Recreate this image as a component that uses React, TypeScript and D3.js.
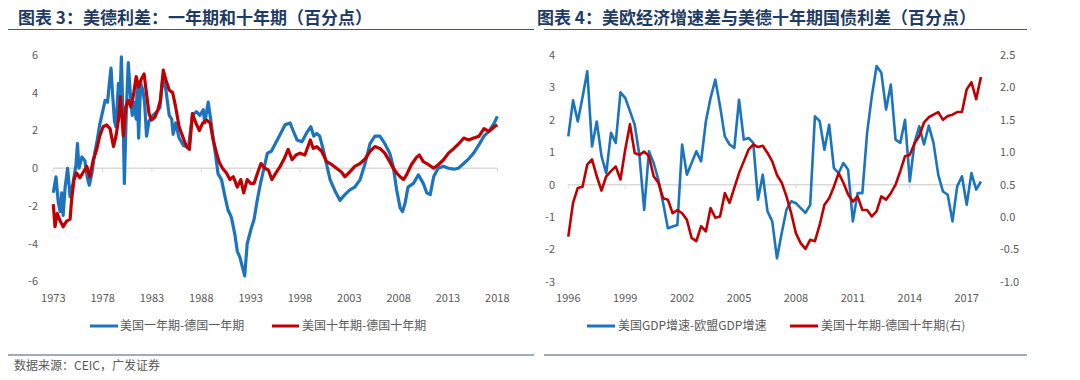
import React from "react";
import * as d3 from "d3";

// ---------- Left chart data (year, percentage points) ----------
const leftYearTicks = [1973, 1978, 1983, 1988, 1993, 1998, 2003, 2008, 2013, 2018];
const leftValueTicks = [-6, -4, -2, 0, 2, 4, 6];

const spread1Y: [number, number][] = [
  [1973.0,-1.3],[1973.27,-0.45],[1973.5,-1.8],[1973.7,-2.3],[1973.85,-1.3],[1974.0,-2.5],[1974.2,-1.0],[1974.45,0.0],[1974.7,-1.5],[1975.0,-0.8],[1975.3,0.2],[1975.45,1.3],[1975.6,0.0],[1975.9,0.6],[1976.2,0.4],[1976.45,-0.5],[1976.65,-0.9],[1976.9,-0.3],[1977.2,0.8],[1977.45,1.5],[1977.7,2.3],[1978.0,3.0],[1978.25,3.6],[1978.5,3.5],[1978.7,4.6],[1978.85,5.3],[1979.0,4.0],[1979.2,2.5],[1979.35,2.2],[1979.6,4.5],[1979.75,3.5],[1979.9,5.9],[1980.1,2.0],[1980.2,-0.8],[1980.4,3.0],[1980.6,5.6],[1980.8,4.0],[1981.0,2.8],[1981.2,3.5],[1981.4,2.6],[1981.5,4.3],[1981.65,1.6],[1981.85,4.5],[1982.05,4.2],[1982.25,3.5],[1982.45,1.7],[1982.7,2.5],[1983.1,2.8],[1983.5,3.0],[1983.8,3.2],[1984.1,4.8],[1984.4,4.2],[1984.75,2.8],[1985.0,2.6],[1985.15,1.8],[1985.4,2.4],[1985.75,1.6],[1986.2,1.2],[1986.7,1.1],[1987.1,2.8],[1987.5,3.0],[1987.85,2.8],[1988.2,3.1],[1988.35,2.4],[1988.7,3.5],[1988.95,2.6],[1989.2,1.6],[1989.5,0.5],[1989.7,-0.3],[1990.05,-0.6],[1990.4,-1.5],[1990.7,-2.2],[1991.05,-2.6],[1991.4,-3.5],[1991.65,-4.4],[1991.9,-4.7],[1992.25,-5.4],[1992.4,-5.7],[1992.65,-4.0],[1993.0,-3.3],[1993.35,-2.7],[1993.7,-1.6],[1994.0,-0.8],[1994.35,0.0],[1994.7,0.8],[1995.1,0.9],[1995.5,1.3],[1996.0,1.8],[1996.5,2.3],[1997.0,2.4],[1997.3,2.0],[1997.7,1.5],[1998.2,1.4],[1998.7,1.9],[1999.1,2.2],[1999.4,1.7],[1999.7,1.85],[2000.0,1.7],[2000.35,1.0],[2000.7,0.2],[2001.05,-0.6],[2001.55,-1.2],[2002.05,-1.7],[2002.55,-1.4],[2003.05,-1.15],[2003.55,-1.0],[2004.1,-0.6],[2004.6,0.25],[2005.1,1.3],[2005.6,1.7],[2006.1,1.7],[2006.6,1.3],[2007.1,0.8],[2007.45,0.1],[2007.8,-1.15],[2008.15,-2.1],[2008.4,-2.3],[2008.65,-1.85],[2008.95,-1.0],[2009.5,-0.8],[2010.0,-0.35],[2010.5,-0.8],[2010.85,-1.3],[2011.2,-1.4],[2011.55,-0.45],[2012.0,0.0],[2012.55,0.1],[2013.05,0.0],[2013.6,-0.05],[2014.05,0.0],[2014.6,0.25],[2015.1,0.5],[2015.6,0.8],[2016.15,1.25],[2016.65,1.7],[2017.15,1.95],[2017.7,2.4],[2018.0,2.75]
];

const spread10Y: [number, number][] = [
  [1973.0,-1.9],[1973.17,-3.1],[1973.4,-2.4],[1973.7,-2.8],[1974.0,-3.1],[1974.35,-2.8],[1974.7,-2.7],[1974.85,-1.7],[1975.1,-0.6],[1975.35,-0.25],[1975.7,-0.5],[1976.05,-0.2],[1976.4,0.1],[1976.7,-0.45],[1977.05,0.45],[1977.4,1.0],[1977.7,1.7],[1978.05,2.2],[1978.4,2.3],[1978.75,2.1],[1979.1,1.15],[1979.35,1.7],[1979.6,2.55],[1979.8,3.8],[1980.1,1.7],[1980.35,3.25],[1980.6,3.6],[1980.85,3.25],[1981.1,3.8],[1981.4,4.85],[1981.65,4.3],[1981.9,4.7],[1982.2,5.0],[1982.45,3.95],[1982.7,2.9],[1982.95,2.55],[1983.3,2.7],[1983.6,3.1],[1983.85,3.6],[1984.15,5.2],[1984.4,4.7],[1984.75,4.15],[1985.1,4.0],[1985.4,3.25],[1985.75,2.2],[1986.1,1.7],[1986.5,1.15],[1986.8,1.0],[1987.1,2.9],[1987.45,2.4],[1987.8,2.0],[1988.15,2.4],[1988.55,2.55],[1988.9,2.4],[1989.2,1.5],[1989.55,0.8],[1989.8,0.35],[1990.15,0.0],[1990.55,-0.25],[1990.9,-0.6],[1991.25,-0.45],[1991.65,-1.0],[1992.0,-0.6],[1992.3,-1.3],[1992.65,-0.6],[1993.0,-0.8],[1993.35,-0.8],[1993.7,-0.25],[1994.05,0.25],[1994.45,0.0],[1994.8,-0.1],[1995.15,-0.6],[1995.5,-0.3],[1996.0,0.1],[1996.4,0.5],[1996.8,1.0],[1997.2,0.45],[1997.6,0.7],[1998.0,0.8],[1998.5,0.7],[1999.05,1.5],[1999.35,1.05],[1999.7,1.15],[2000.2,0.9],[2000.7,0.35],[2001.2,0.2],[2001.7,0.0],[2002.2,-0.2],[2002.55,-0.45],[2003.05,-0.2],[2003.55,0.1],[2004.1,0.25],[2004.6,0.5],[2005.1,0.9],[2005.6,1.15],[2006.1,1.05],[2006.6,0.8],[2007.1,0.35],[2007.45,0.0],[2007.8,-0.25],[2008.15,-0.45],[2008.5,-0.6],[2008.8,-0.35],[2009.3,0.2],[2009.85,0.6],[2010.1,0.7],[2010.5,0.35],[2011.0,0.2],[2011.55,0.0],[2012.05,0.2],[2012.55,0.45],[2013.05,0.8],[2013.6,1.05],[2014.1,1.3],[2014.6,1.6],[2015.1,1.5],[2015.6,1.6],[2016.15,1.7],[2016.65,2.1],[2017.15,1.95],[2017.7,2.2],[2018.0,2.3]
];

// ---------- Right chart data (quarterly from 1996Q1) ----------
const rightStartYear = 1996;
const rightYearTicks = [1996, 1999, 2002, 2005, 2008, 2011, 2014, 2017];
const rightLeftTicks = [-3, -2, -1, 0, 1, 2, 3, 4];
const rightRightTicks = [-1.0, -0.5, 0.0, 0.5, 1.0, 1.5, 2.0, 2.5];

const gdpGap = [
  1.49, 2.6, 1.95, 2.7,
  3.5, 1.18, 1.95, 0.88,
  0.36, 1.6, 1.29, 2.85,
  2.68, 2.27, 1.85, 0.9,
  -0.78, 1.03, 0.67, 0.15,
  -0.57, -1.34, -1.29, -1.24,
  1.24, 0.31, 0.67, 1.03,
  0.72, 1.95, 2.68, 3.24,
  2.42, 1.49, 1.24, 1.13,
  2.62, 1.39, 1.44, 1.29,
  -0.46, 0.31, -0.82, -1.13,
  -2.27, -1.49, -0.77, -0.51,
  -0.57, -0.72, -0.87, -0.62,
  2.11, 1.96, 1.08, 1.85,
  0.51, 0.36, 0.67, 0.46,
  -1.13, -0.26, -0.26, 1.6,
  2.73, 3.66, 3.45, 2.32,
  3.09, 1.39, 1.29, 2.0,
  0.1, 1.29, 1.8, 1.24,
  1.82, 1.29, 0.31, -0.21,
  -0.31, -1.13, -0.05, 0.26,
  -0.62, 0.36, -0.15, 0.1
];

const bund10YGap = [
  -0.3, 0.22, 0.45, 0.47,
  0.81, 0.89, 0.63, 0.41,
  0.63, 0.71, 0.78, 0.58,
  1.04, 1.43, 0.99, 0.96,
  1.01, 0.94, 0.63, 0.53,
  0.29, 0.27, 0.06, 0.11,
  0.06, -0.04, -0.32, -0.37,
  -0.14, -0.22, 0.14, -0.01,
  0.01, 0.37, 0.22, 0.45,
  0.68, 0.86, 1.04, 1.12,
  1.08, 1.10, 0.99, 0.86,
  0.65, 0.53, 0.32, 0.06,
  -0.25, -0.4, -0.49, -0.35,
  -0.37, -0.12, 0.19, 0.29,
  0.47, 0.68, 0.53, 0.35,
  0.24, 0.32, 0.11, 0.11,
  0.01, 0.09, 0.32, 0.27,
  0.37, 0.5, 0.71, 0.94,
  0.96, 1.14, 1.25, 1.46,
  1.54, 1.58, 1.62, 1.5,
  1.56, 1.58, 1.62, 1.62,
  1.97, 2.08, 1.82, 2.16
];

const BLUE = "#1B74BD";
const RED = "#C00000";
const AXIS_TEXT = "#595959";
const FONT = "'Noto Sans CJK SC', 'Noto Sans', sans-serif";

export default function App() {
  // scales
  const xL = d3.scaleLinear().domain([1973, 2018]).range([53.3, 497.3]);
  const yL = d3.scaleLinear().domain([-6, 6]).range([281.5, 55]);
  const xR = d3.scaleLinear().domain([1996, 2017]).range([568.3, 966.7]);
  const yRL = d3.scaleLinear().domain([-3, 4]).range([282, 55]);
  const yRR = d3.scaleLinear().domain([-1, 2.5]).range([282, 55]);

  const lineL = d3.line<[number, number]>().x((d) => xL(d[0])).y((d) => yL(d[1]));
  const qt = (i: number) => rightStartYear + i / 4;
  const lineRL = d3.line<number>().x((_, i) => xR(qt(i))).y((d) => yRL(d));
  const lineRR = d3.line<number>().x((_, i) => xR(qt(i))).y((d) => yRR(d));

  const xLabelY = 298;

  return (
    <svg
      width={1080}
      height={380}
      style={{ position: "absolute", left: 0, top: 0, background: "#fff" }}
      fontFamily={FONT}
    >
      {/* Titles */}
      <text x={18} y={24} fontSize={17} fontWeight="bold" fill="#1F3B63">图表 3：美德利差：一年期和十年期（百分点）</text>
      <text x={537} y={24} fontSize={17} fontWeight="bold" fill="#1F3B63">图表 4：美欧经济增速差与美德十年期国债利差（百分点）</text>
      <line x1={8} x2={534} y1={29.5} y2={29.5} stroke="#3D5A78" strokeWidth={1} />
      <line x1={544} x2={1027} y1={29.5} y2={29.5} stroke="#3D5A78" strokeWidth={1} />

      {/* ---------- Left chart ---------- */}
      <line x1={xL(1973)} x2={xL(2018)} y1={yL(0)} y2={yL(0)} stroke="#D9D9D9" strokeWidth={1.5} />
      {leftYearTicks.map((t) => (
        <line key={"lt" + t} x1={xL(t)} x2={xL(t)} y1={yL(0)} y2={yL(0) + 4} stroke="#D9D9D9" strokeWidth={1} />
      ))}
      {leftValueTicks.map((v) => (
        <text key={"lv" + v} x={38} y={yL(v)} dy="0.35em" textAnchor="end" fontSize={11} fill={AXIS_TEXT}>{v}</text>
      ))}
      {leftYearTicks.map((t) => (
        <text key={"ly" + t} x={xL(t)} y={xLabelY} dy="0.35em" textAnchor="middle" fontSize={11} fill={AXIS_TEXT}>{t}</text>
      ))}
      <path d={lineL(spread1Y) || ""} fill="none" stroke={BLUE} strokeWidth={3.2} strokeLinejoin="round" />
      <path d={lineL(spread10Y) || ""} fill="none" stroke={RED} strokeWidth={3.2} strokeLinejoin="round" />

      {/* Left legend */}
      <line x1={90} x2={118} y1={326} y2={326} stroke={BLUE} strokeWidth={3} />
      <text x={120} y={326} dy="0.35em" fontSize={12} fill={AXIS_TEXT}>美国一年期-德国一年期</text>
      <line x1={272} x2={299} y1={326} y2={326} stroke={RED} strokeWidth={3} />
      <text x={302} y={326} dy="0.35em" fontSize={12} fill={AXIS_TEXT}>美国十年期-德国十年期</text>

      {/* ---------- Right chart ---------- */}
      <line x1={xR(1996)} x2={xR(qt(gdpGap.length - 1))} y1={yRL(0)} y2={yRL(0)} stroke="#D9D9D9" strokeWidth={1.5} />
      {rightYearTicks.map((t) => (
        <line key={"rt" + t} x1={xR(t)} x2={xR(t)} y1={yRL(0)} y2={yRL(0) + 4} stroke="#D9D9D9" strokeWidth={1} />
      ))}
      {rightLeftTicks.map((v) => (
        <text key={"rl" + v} x={555} y={yRL(v)} dy="0.35em" textAnchor="end" fontSize={11} fill={AXIS_TEXT}>{v}</text>
      ))}
      {rightRightTicks.map((v) => (
        <text key={"rr" + v} x={1000} y={yRR(v)} dy="0.35em" textAnchor="start" fontSize={11} fill={AXIS_TEXT}>{v.toFixed(1)}</text>
      ))}
      {rightYearTicks.map((t) => (
        <text key={"ry" + t} x={xR(t)} y={xLabelY} dy="0.35em" textAnchor="middle" fontSize={11} fill={AXIS_TEXT}>{t}</text>
      ))}
      <path d={lineRL(gdpGap) || ""} fill="none" stroke={BLUE} strokeWidth={2.6} strokeLinejoin="round" />
      <path d={lineRR(bund10YGap) || ""} fill="none" stroke={RED} strokeWidth={2.6} strokeLinejoin="round" />

      {/* Right legend */}
      <line x1={587} x2={615} y1={326} y2={326} stroke={BLUE} strokeWidth={3} />
      <text x={618} y={326} dy="0.35em" fontSize={12} fill={AXIS_TEXT}>美国GDP增速-欧盟GDP增速</text>
      <line x1={790} x2={818} y1={326} y2={326} stroke={RED} strokeWidth={3} />
      <text x={821} y={326} dy="0.35em" fontSize={12} fill={AXIS_TEXT}>美国十年期-德国十年期(右)</text>

      {/* Bottom rules and source */}
      <line x1={8} x2={534} y1={355} y2={355} stroke="#3D5A78" strokeWidth={1} />
      <line x1={544} x2={1027} y1={355} y2={355} stroke="#3D5A78" strokeWidth={1} />
      <text x={14} y={366} dy="0.35em" fontSize={12} fill={AXIS_TEXT}>数据来源：CEIC，广发证券</text>
    </svg>
  );
}
